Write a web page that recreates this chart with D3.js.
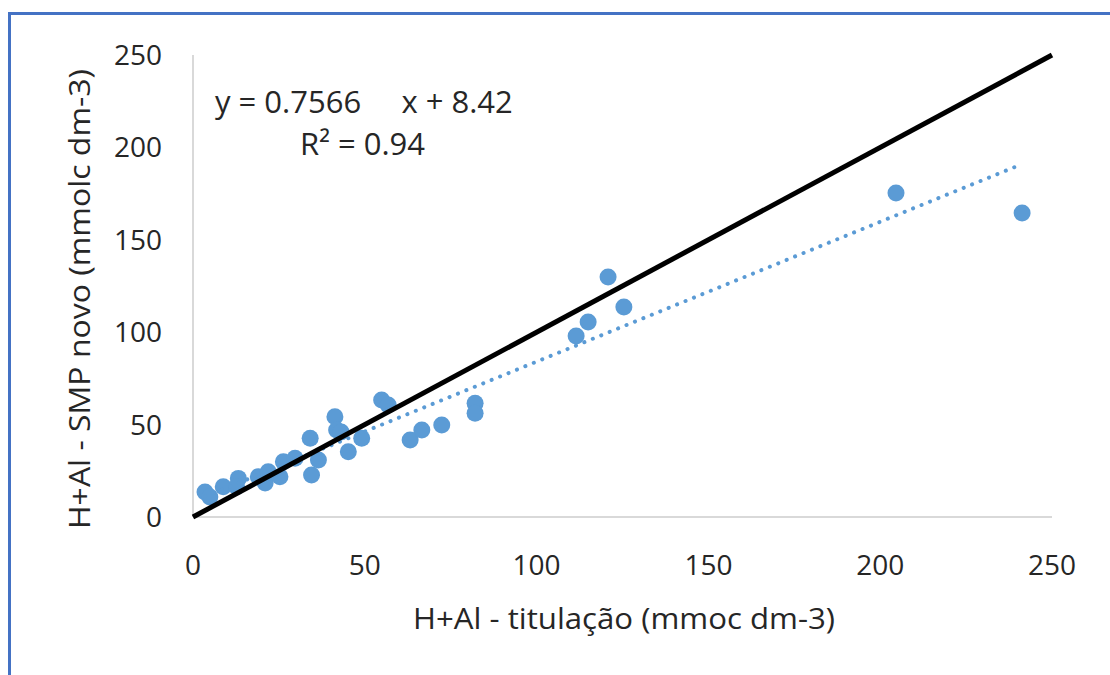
<!DOCTYPE html>
<html><head><meta charset="utf-8">
<script src="https://cdn.jsdelivr.net/npm/d3@7"></script>
<style>
html,body{margin:0;padding:0;background:#fff;}
svg{display:block;}
text{font-family:"Open Sans",sans-serif;fill:#262626;}
</style></head>
<body>
<svg id="chart" width="1110" height="675"></svg>
<script>
// Data
const xValues = [3.5, 4.9, 8.8, 13.2, 12.7, 19.0, 21.0, 21.9, 25.3, 26.3, 29.7, 34.1, 36.5, 34.5, 41.3, 41.8, 43.1, 45.2, 49.1, 54.9, 56.8, 63.2, 66.6, 72.4, 82.1, 82.1, 111.5, 115.0, 120.8, 125.4, 204.6, 241.3];
const yValues = [13.5, 10.8, 16.4, 20.9, 16.4, 21.8, 18.4, 24.5, 21.8, 29.9, 31.8, 42.6, 30.8, 22.7, 54.3, 47.1, 46.0, 35.3, 42.6, 63.3, 60.6, 41.7, 47.1, 49.8, 61.5, 56.1, 97.9, 105.5, 129.9, 113.6, 175.3, 164.5];
const xTicks = [0, 50, 100, 150, 200, 250];
const yTicks = [0, 50, 100, 150, 200, 250];
const slope = 0.7566, intercept = 8.42;
const equationText = "y = 0.7566     x + 8.42";
const r2Text = "R² = 0.94";
const xTitle = "H+Al - titulação (mmoc dm-3)";
const yTitle = "H+Al - SMP novo (mmolc dm-3)";

const svg = d3.select("#chart");
const x = d3.scaleLinear().domain([0, 250]).range([193, 1052]);
const y = d3.scaleLinear().domain([0, 250]).range([517, 55]);

// outer border
svg.append("rect").attr("x", 9.5).attr("y", 13.5).attr("width", 1200).attr("height", 800)
  .attr("fill", "none").attr("stroke", "#4472C4").attr("stroke-width", 3);

// axes lines
svg.append("line").attr("x1", x(0)).attr("x2", x(250)).attr("y1", y(0)).attr("y2", y(0))
  .attr("stroke", "#d9d9d9").attr("stroke-width", 2);
svg.append("line").attr("x1", x(0)).attr("x2", x(0)).attr("y1", y(0)).attr("y2", y(250))
  .attr("stroke", "#d9d9d9").attr("stroke-width", 2);

// tick labels
svg.append("g").selectAll("text").data(yTicks).join("text")
  .attr("x", 162).attr("y", d => y(d)).attr("dy", "0.36em")
  .attr("text-anchor", "end").attr("font-size", 28).text(d => d);
svg.append("g").selectAll("text").data(xTicks).join("text")
  .attr("x", d => x(d)).attr("y", 565).attr("dy", "0.36em")
  .attr("text-anchor", "middle").attr("font-size", 28).text(d => d);

// axis titles
svg.append("text").attr("x", 624).attr("y", 619).attr("dy", "0.36em")
  .attr("text-anchor", "middle").attr("font-size", 29)
  .attr("textLength", 422).attr("lengthAdjust", "spacingAndGlyphs").text(xTitle);
svg.append("text").attr("transform", "translate(80,299) rotate(-90)").attr("dy", "0.36em")
  .attr("text-anchor", "middle").attr("font-size", 29)
  .attr("textLength", 460).attr("lengthAdjust", "spacingAndGlyphs").text(yTitle);

// points
const pts = xValues.map((v, i) => ({x: v, y: yValues[i]}));
svg.append("g").selectAll("circle").data(pts).join("circle")
  .attr("cx", d => x(d.x)).attr("cy", d => y(d.y)).attr("r", 8.5)
  .attr("fill", "#5B9BD5");

// trendline (dotted)
const xmin = d3.min(xValues), xmax = d3.max(xValues);
svg.append("line")
  .attr("x1", x(xmin)).attr("y1", y(slope * xmin + intercept))
  .attr("x2", x(xmax)).attr("y2", y(slope * xmax + intercept))
  .attr("stroke", "#5B9BD5").attr("stroke-width", 4)
  .attr("stroke-linecap", "round").attr("stroke-dasharray", "0.1 9");

// 1:1 line
svg.append("line").attr("x1", x(0)).attr("y1", y(0)).attr("x2", x(250)).attr("y2", y(250))
  .attr("stroke", "#000").attr("stroke-width", 5);

// equation
svg.append("text").attr("x", 215).attr("y", 113).attr("font-size", 31)
  .attr("xml:space", "preserve").style("white-space", "pre").text(equationText);
svg.append("text").attr("x", 300).attr("y", 155).attr("font-size", 31).text(r2Text);
</script>
</body></html>
